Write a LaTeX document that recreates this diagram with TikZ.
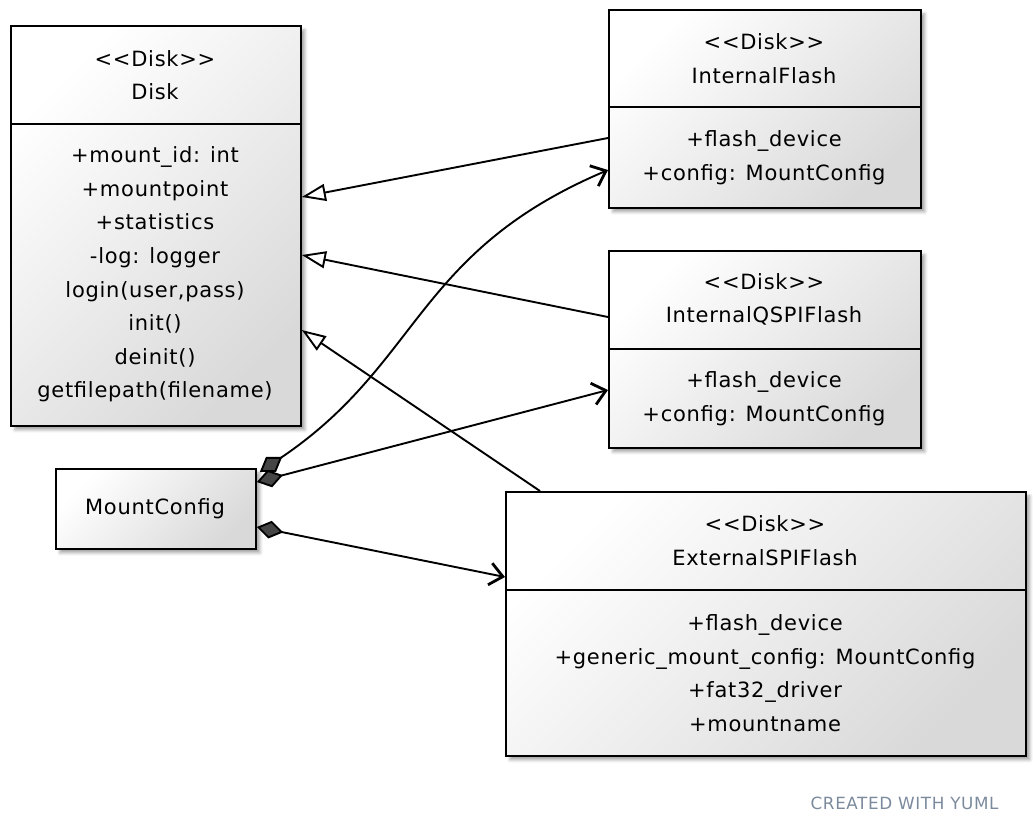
\documentclass[tikz,border=0pt]{standalone}
\usepackage{fontspec}
\setmainfont{DejaVu Sans}[LetterSpace=3.5,Ligatures=TeXOff]
\usetikzlibrary{arrows.meta,shadows.blur}
\definecolor{yumlShade}{HTML}{D9D9D9}
\definecolor{yumlDiamond}{HTML}{454545}
\definecolor{yumlNote}{HTML}{7B8A9C}

\begin{document}
\begin{tikzpicture}[
  x=1pt, y=-1pt,
  font=\fontsize{21}{33.6}\selectfont,
  classbox/.style={draw=black, line width=1.8pt, anchor=north west, inner sep=0pt,
                   top color=white, bottom color=yumlShade, shading angle=45,
                   blur shadow={shadow xshift=4pt, shadow yshift=-4pt,
                                shadow blur radius=3pt, shadow opacity=35}},
  member/.style={align=center, inner sep=0pt},
  divider/.style={line width=1.8pt},
  gen/.style={line width=1.9pt, -{Triangle[length=24pt,width=17pt,fill=white]}},
  has/.style={line width=1.9pt,
              {Diamond[length=27pt,width=18pt,fill=yumlDiamond]}-{Straight Barb[length=13pt,width=22pt,line width=2.8pt]}}
]
\useasboundingbox (0,0) rectangle (1035,833);

% classes
\node[classbox, minimum width=290pt, minimum height=400pt] (disk) at (10,25) {};
\draw[divider] ([yshift=-99pt]disk.north west) -- ([yshift=-99pt]disk.north east);
\node[member] (diskhead) at (155,75) {<<Disk>>\\Disk};
\node[member] (diskbody) at (155,274.5) {+mount\_id: int\\+mountpoint\\+statistics\\-log: logger\\
  login(user,pass)\\init()\\deinit()\\getfilepath(filename)};

\node[classbox, minimum width=312pt, minimum height=198pt] (iflash) at (608,9) {};
\draw[divider] ([yshift=-98pt]iflash.north west) -- ([yshift=-98pt]iflash.north east);
\node[member] (iflashhead) at (764,58.5) {<<Disk>>\\InternalFlash};
\node[member] (iflashbody) at (764,158) {+flash\_device\\+config: MountConfig};

\node[classbox, minimum width=312pt, minimum height=197pt] (qspi) at (608,250) {};
\draw[divider] ([yshift=-99pt]qspi.north west) -- ([yshift=-99pt]qspi.north east);
\node[member] (qspihead) at (764,299.5) {<<Disk>>\\InternalQSPIFlash};
\node[member] (qspibody) at (764,398.5) {+flash\_device\\+config: MountConfig};

\node[classbox, minimum width=520pt, minimum height=264pt] (ext) at (505,491) {};
\draw[divider] ([yshift=-99pt]ext.north west) -- ([yshift=-99pt]ext.north east);
\node[member] (exthead) at (765,540.5) {<<Disk>>\\ExternalSPIFlash};
\node[member] (extbody) at (765,673) {+flash\_device\\+generic\_mount\_config: MountConfig\\
  +fat32\_driver\\+mountname};

\node[classbox, minimum width=200pt, minimum height=80pt] (mount) at (55,468) {};
\node[member] (mountname) at (155,509) {MountConfig};

% inheritance
\draw[gen] ([yshift=-129pt]iflash.north west) -- ([yshift=-172pt]disk.north east);
\draw[gen] ([yshift=-67pt]qspi.north west) -- ([yshift=-230pt]disk.north east);
\draw[gen] ([xshift=35pt]ext.north west) -- ([yshift=-305pt]disk.north east);

% composition
\draw[has] ([xshift=3pt,yshift=-4pt]mount.north east)
  .. controls +(34:195pt) and +(203:210pt) .. ([yshift=-161pt]iflash.north west);
\draw[has] ([yshift=-14pt]mount.north east) -- ([yshift=-140pt]qspi.north west);
\draw[has] ([yshift=-59pt]mount.north east) -- ([yshift=-86pt]ext.north west);

\node[font=\fontsize{16.8}{20}\selectfont, text=yumlNote, anchor=east] (credit)
  at (1002,803) {CREATED WITH YUML};
\end{tikzpicture}
\end{document}
